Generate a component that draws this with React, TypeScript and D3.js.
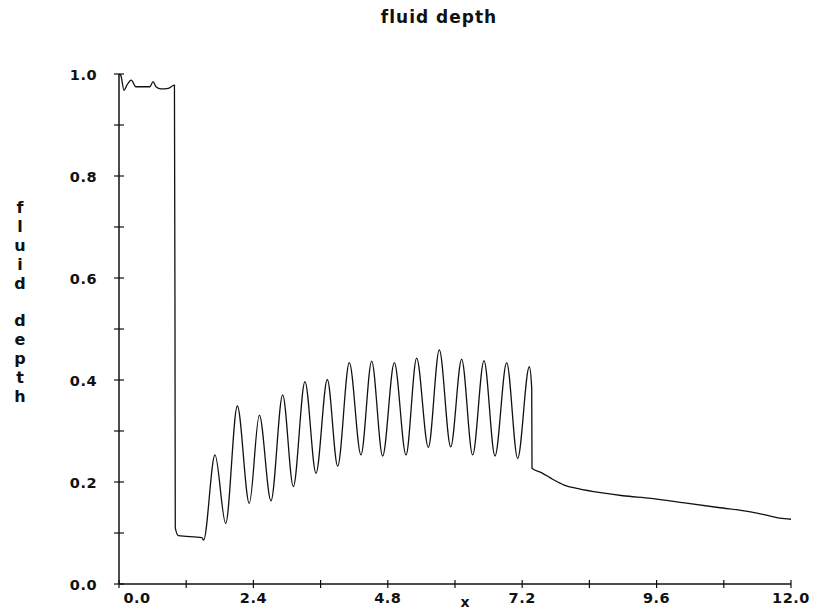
import React from "react";
import * as d3 from "d3";

// fluid depth profile h(x)
const profileX = [
  0.0, 0.03, 0.09, 0.14, 0.22, 0.3, 0.4, 0.55, 0.61, 0.66, 0.75, 0.88, 0.99,
  1.0, 1.005, 1.06, 1.48, 1.51,
  1.714, 1.905, 2.113, 2.327, 2.506, 2.714, 2.923, 3.113, 3.321, 3.518, 3.72, 3.905,
  4.113, 4.321, 4.512, 4.708, 4.917, 5.125, 5.315, 5.524, 5.72, 5.923, 6.119, 6.315,
  6.518, 6.714, 6.923, 7.119, 7.327, 7.37, 7.375,
  7.55, 7.75, 7.95, 8.2, 8.6, 9.0, 9.5, 10.1, 10.7, 11.3, 11.6, 11.8, 12.0,
];
const profileY = [
  1.0, 0.998, 0.968, 0.978, 0.988, 0.975, 0.975, 0.975, 0.985, 0.975, 0.971, 0.972, 0.978,
  0.5, 0.11, 0.095, 0.091, 0.086,
  0.253, 0.119, 0.349, 0.158, 0.331, 0.163, 0.371, 0.191, 0.397, 0.217, 0.401, 0.231,
  0.434, 0.253, 0.437, 0.251, 0.434, 0.253, 0.443, 0.268, 0.459, 0.269, 0.441, 0.253,
  0.438, 0.251, 0.434, 0.246, 0.426, 0.384, 0.227,
  0.218, 0.205, 0.194, 0.187, 0.179, 0.173, 0.168, 0.159, 0.15, 0.141, 0.134, 0.129, 0.127,
];

const xTickValues = [0, 1.2, 2.4, 3.6, 4.8, 6.0, 7.2, 8.4, 9.6, 10.8, 12.0];
const xLabelValues = [0, 2.4, 4.8, 7.2, 9.6, 12.0];
const yTickValues = [0, 0.1, 0.2, 0.3, 0.4, 0.5, 0.6, 0.7, 0.8, 0.9, 1.0];
const yLabelValues = [0, 0.2, 0.4, 0.6, 0.8, 1.0];

const titleText = "fluid depth";
const xAxisTitle = "x";
const yAxisTitle = "fluid depth";

export default function App() {
  const W = 819;
  const H = 612;
  const x = d3.scaleLinear().domain([0, 12]).range([119, 791]);
  const y = d3.scaleLinear().domain([0, 1]).range([584, 74]);
  const fmt = d3.format(".1f");

  const line = d3
    .line<number>()
    .x((_, i) => x(profileX[i]))
    .y((d) => y(d))
    .curve(d3.curveMonotoneX);

  const font = "'DejaVu Sans', sans-serif";
  const x0 = x(0);
  const y0 = y(0);
  const letters = yAxisTitle.split("");

  return (
    <svg
      width={W}
      height={H}
      style={{ position: "absolute", left: 0, top: 0, background: "#fff" }}
      fontFamily={font}
      fontWeight="bold"
    >
      <rect x={0} y={0} width={W} height={H} fill="#fff" />
      <text x={439} y={23} textAnchor="middle" fontSize={17} letterSpacing={1} fill="#111">
        {titleText}
      </text>

      {/* axes */}
      <line x1={x0} x2={x0} y1={y(1)} y2={y0} stroke="#111" strokeWidth={1.5} />
      <line x1={x0} x2={x(12)} y1={y0} y2={y0} stroke="#111" strokeWidth={1.5} />

      {yTickValues.map((v) => (
        <line key={"yt" + v} x1={x0 - 5} x2={x0 + 5} y1={y(v)} y2={y(v)} stroke="#111" strokeWidth={1.2} />
      ))}
      {xTickValues.map((v) => (
        <line key={"xt" + v} x1={x(v)} x2={x(v)} y1={y0 - 4} y2={y0 + 4} stroke="#111" strokeWidth={1.2} />
      ))}

      {yLabelValues.map((v) => (
        <text key={"yl" + v} x={97} y={y(v) + 5.5} textAnchor="end" fontSize={14.5} letterSpacing={0.5} fill="#111">
          {fmt(v)}
        </text>
      ))}
      {xLabelValues.map((v) => {
        const cx = Math.max(x(v), x0 + 18);
        return (
          <text key={"xl" + v} x={cx} y={603} textAnchor="middle" fontSize={14.5} letterSpacing={0.5} fill="#111">
            {fmt(v)}
          </text>
        );
      })}

      <text x={465} y={607} textAnchor="middle" fontSize={14} fill="#111">
        {xAxisTitle}
      </text>

      {letters.map((c, i) => (
        <text key={"ya" + i} x={20} y={213 + i * 18.9} textAnchor="middle" fontSize={16} fill="#111">
          {c}
        </text>
      ))}

      <path d={line(profileY) || ""} fill="none" stroke="#111" strokeWidth={1.3} />
    </svg>
  );
}
